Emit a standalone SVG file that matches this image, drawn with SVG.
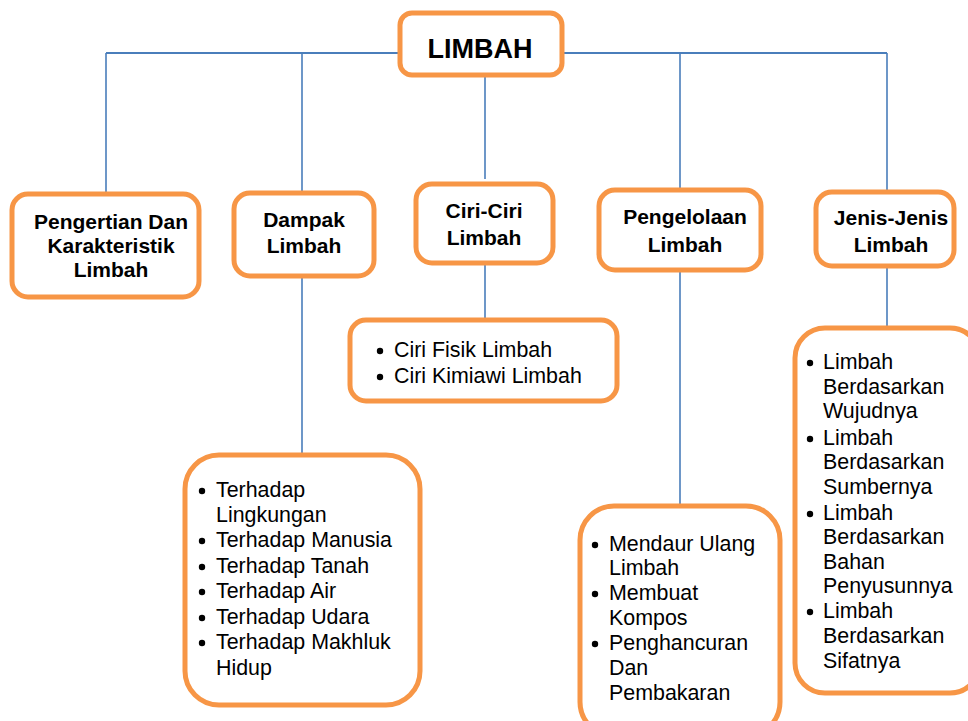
<svg xmlns="http://www.w3.org/2000/svg" width="968" height="721" viewBox="0 0 968 721">
<style>
.box{fill:#fff;stroke:#F79646;stroke-width:5}
.ln{stroke:#4A7EBB;stroke-width:1.6;fill:none}
.t{font-family:"Liberation Sans",Arial,sans-serif;font-size:21.4px;fill:#000}
.b{font-size:21px;font-weight:bold;text-anchor:middle}
.big{font-family:"Liberation Sans",Arial,sans-serif;font-size:27px;font-weight:bold;text-anchor:middle}
</style>
<rect width="968" height="721" fill="#fff"/>
<g id="connectors">
<path class="ln" style="stroke-width:2" d="M106 53H399M562 53H887"/>
<path class="ln" d="M106 53V192M302 53V191M485 75V179M680 53V191M887 53V191"/>
<path class="ln" d="M302 276V453M485 263V320M680 270V506M887 266V328"/>
</g>
<g id="limbah">
<rect class="box" x="400" y="13" width="162" height="62" rx="12"/>
<text class="big" x="480" y="58">LIMBAH</text>
</g>
<g id="pengertian">
<rect class="box" x="12" y="194" width="187" height="103" rx="16"/>
<text class="t b" x="111" y="229">Pengertian Dan</text>
<text class="t b" x="111" y="253">Karakteristik</text>
<text class="t b" x="111" y="277">Limbah</text>
</g>
<g id="dampak">
<rect class="box" x="234" y="193" width="140" height="83" rx="16"/>
<text class="t b" x="304" y="227">Dampak</text>
<text class="t b" x="304" y="253">Limbah</text>
</g>
<g id="ciri">
<rect class="box" x="416" y="184" width="137" height="79" rx="16"/>
<text class="t b" x="484" y="218">Ciri-Ciri</text>
<text class="t b" x="484" y="245">Limbah</text>
</g>
<g id="pengelolaan">
<rect class="box" x="599" y="190" width="162" height="80" rx="16"/>
<text class="t b" x="685" y="224">Pengelolaan</text>
<text class="t b" x="685" y="252">Limbah</text>
</g>
<g id="jenis">
<rect class="box" x="816" y="192" width="138" height="74" rx="16"/>
<text class="t b" x="891" y="225">Jenis-Jenis</text>
<text class="t b" x="891" y="252">Limbah</text>
</g>
<g id="ciri-list">
<rect class="box" x="350" y="320" width="267" height="81" rx="16"/>
<circle cx="380" cy="351" r="3.2"/><circle cx="380" cy="377" r="3.2"/>
<text class="t" x="394" y="357">Ciri Fisik Limbah</text>
<text class="t" x="394" y="383">Ciri Kimiawi Limbah</text>
</g>
<g id="dampak-list">
<rect class="box" x="185" y="455" width="235" height="250" rx="34"/>
<circle cx="202" cy="491" r="3.2"/><circle cx="202" cy="541" r="3.2"/><circle cx="202" cy="567" r="3.2"/><circle cx="202" cy="592" r="3.2"/><circle cx="202" cy="618" r="3.2"/><circle cx="202" cy="643" r="3.2"/>
<text class="t" x="216" y="497">Terhadap</text>
<text class="t" x="216" y="522">Lingkungan</text>
<text class="t" x="216" y="547">Terhadap Manusia</text>
<text class="t" x="216" y="573">Terhadap Tanah</text>
<text class="t" x="216" y="598">Terhadap Air</text>
<text class="t" x="216" y="624">Terhadap Udara</text>
<text class="t" x="216" y="649">Terhadap Makhluk</text>
<text class="t" x="216" y="675">Hidup</text>
</g>
<g id="pengelolaan-list">
<rect class="box" x="580" y="506" width="200" height="230" rx="34"/>
<circle cx="595" cy="545" r="3.2"/><circle cx="595" cy="594" r="3.2"/><circle cx="595" cy="644" r="3.2"/>
<text class="t" x="609" y="551">Mendaur Ulang</text>
<text class="t" x="609" y="575">Limbah</text>
<text class="t" x="609" y="600">Membuat</text>
<text class="t" x="609" y="625">Kompos</text>
<text class="t" x="609" y="650">Penghancuran</text>
<text class="t" x="609" y="675">Dan</text>
<text class="t" x="609" y="700">Pembakaran</text>
</g>
<g id="jenis-list">
<rect class="box" x="795" y="328" width="185" height="365" rx="30"/>
<circle cx="810" cy="363" r="3.2"/><circle cx="810" cy="439" r="3.2"/><circle cx="810" cy="514" r="3.2"/><circle cx="810" cy="612" r="3.2"/>
<text class="t" x="823" y="369">Limbah</text>
<text class="t" x="823" y="394">Berdasarkan</text>
<text class="t" x="823" y="418">Wujudnya</text>
<text class="t" x="823" y="445">Limbah</text>
<text class="t" x="823" y="469">Berdasarkan</text>
<text class="t" x="823" y="494">Sumbernya</text>
<text class="t" x="823" y="520">Limbah</text>
<text class="t" x="823" y="544">Berdasarkan</text>
<text class="t" x="823" y="569">Bahan</text>
<text class="t" x="823" y="593">Penyusunnya</text>
<text class="t" x="823" y="618">Limbah</text>
<text class="t" x="823" y="643">Berdasarkan</text>
<text class="t" x="823" y="668">Sifatnya</text>
</g>
</svg>
